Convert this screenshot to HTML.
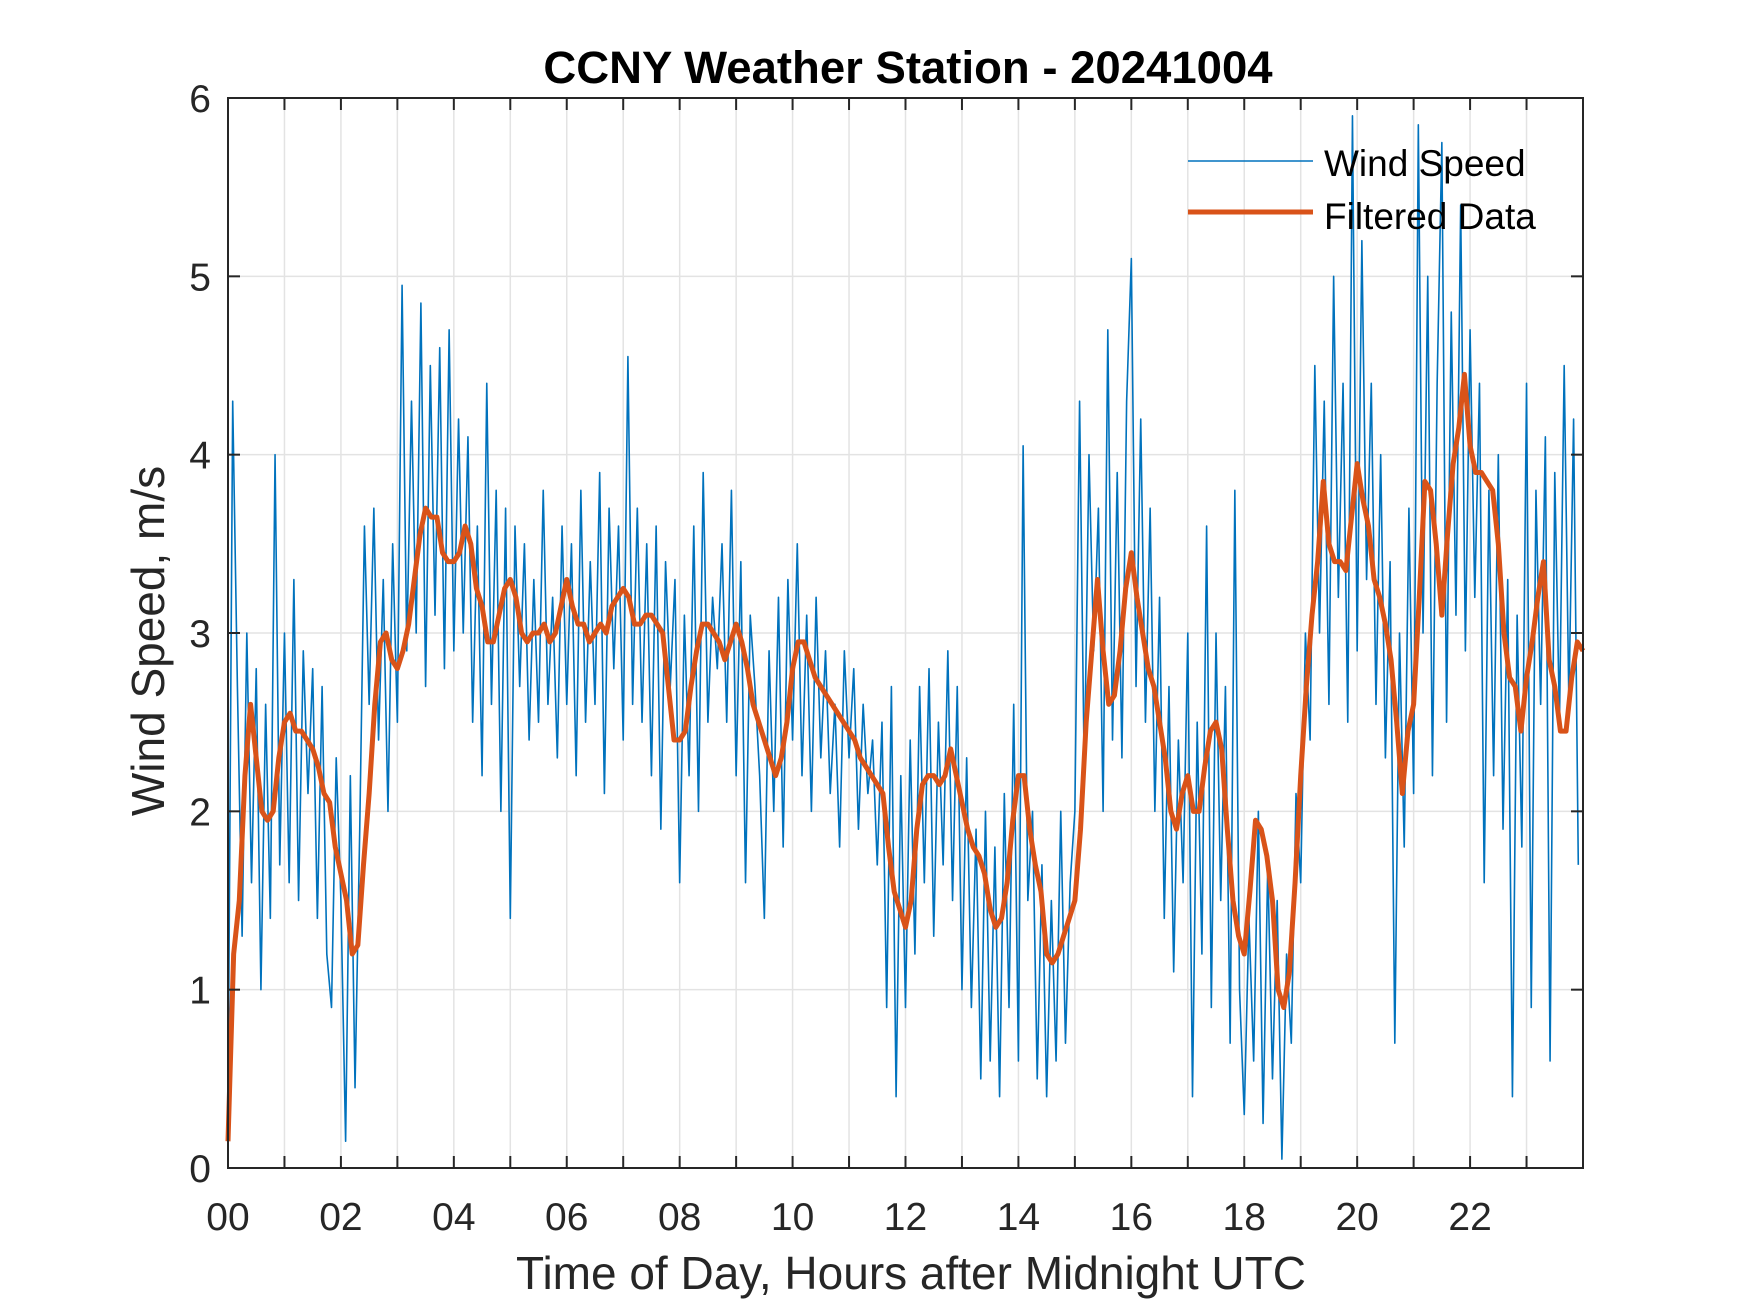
<!DOCTYPE html>
<html><head><meta charset="utf-8"><style>
html,body{margin:0;padding:0;background:#fff;}
svg{display:block;font-family:"Liberation Sans",Arial,sans-serif;}
</style></head><body>
<svg id="chart" width="1750" height="1313" viewBox="0 0 1750 1313" xmlns="http://www.w3.org/2000/svg">
<rect x="0" y="0" width="1750" height="1313" fill="#fff"/>
<g id="grid"></g>
<g id="series"></g>
<g id="axes"></g>
<text x="908" y="83" text-anchor="middle" font-size="45.5" font-weight="bold" fill="#000">CCNY Weather Station - 20241004</text>
<text x="911" y="1289" text-anchor="middle" font-size="46" fill="#262626">Time of Day, Hours after Midnight UTC</text>
<text transform="translate(164,641) rotate(-90)" text-anchor="middle" font-size="46" fill="#262626">Wind Speed, m/s</text>
<g>
<line x1="1188" y1="161" x2="1313" y2="161" stroke="#0072BD" stroke-width="1.5"/>
<text x="1324" y="176" font-size="37" fill="#000">Wind Speed</text>
<line x1="1188" y1="212" x2="1313" y2="212" stroke="#D95319" stroke-width="5"/>
<text x="1324" y="229" font-size="37" fill="#000">Filtered Data</text>
</g>
</svg>
<script>
const xTickLabels = ["00","02","04","06","08","10","12","14","16","18","20","22"];
const yTickLabels = ["0","1","2","3","4","5","6"];
const windStep = 1/12;
const windSpeed = [
0.3,4.3,2.7,1.3,3.0,1.6,2.8,1.0,2.6,1.4,4.0,1.7,
3.0,1.6,3.3,1.5,2.9,2.1,2.8,1.4,2.7,1.2,0.9,2.3,
1.5,0.15,2.2,0.45,1.9,3.6,2.6,3.7,2.4,3.3,2.0,3.5,
2.5,4.95,2.9,4.3,3.0,4.85,2.7,4.5,3.1,4.6,2.8,4.7,
2.9,4.2,3.0,4.1,2.5,3.6,2.2,4.4,2.6,3.8,2.0,3.7,
1.4,3.6,2.7,3.5,2.4,3.3,2.5,3.8,2.6,3.2,2.3,3.6,
2.6,3.5,2.2,3.8,2.5,3.4,2.6,3.9,2.1,3.7,2.8,3.6,
2.4,4.55,2.6,3.7,2.5,3.5,2.2,3.6,1.9,3.4,2.7,3.3,
1.6,3.1,2.2,3.6,2.0,3.9,2.5,3.2,2.8,3.5,2.5,3.8,
2.2,3.4,1.6,3.1,2.7,2.2,1.4,2.9,2.0,3.2,1.8,3.3,
2.4,3.5,2.2,3.1,2.0,3.2,2.3,2.9,2.1,2.6,1.8,2.9,
2.3,2.8,1.9,2.6,2.1,2.4,1.7,2.5,0.9,2.7,0.4,2.2,
0.9,2.4,1.2,2.7,1.6,2.8,1.3,2.5,1.7,2.9,1.5,2.7,
1.0,2.3,0.9,1.9,0.5,2.0,0.6,1.8,0.4,2.1,0.9,2.6,
0.6,4.05,1.5,2.0,0.5,1.7,0.4,1.5,0.6,2.0,0.7,1.6,
2.0,4.3,2.2,4.0,2.9,3.7,2.0,4.7,2.4,3.9,2.3,4.3,
5.1,2.7,4.2,2.5,3.7,2.0,3.2,1.4,2.7,1.1,2.4,1.6,
3.0,0.4,2.5,1.2,3.6,0.9,3.0,1.5,2.7,0.7,3.8,1.0,
0.3,1.4,0.6,2.0,0.25,1.7,0.5,1.5,0.05,1.2,0.7,2.1,
1.6,3.0,2.4,4.5,3.0,4.3,2.6,5.0,3.2,4.4,2.5,5.9,
2.9,5.2,3.3,4.4,2.6,4.0,2.3,3.4,0.7,3.0,1.8,3.7,
2.1,5.85,3.0,5.0,2.2,4.4,5.75,2.5,4.8,3.1,5.4,2.9,
4.7,3.2,4.4,1.6,3.8,2.2,4.0,1.9,3.3,0.4,3.1,1.8,
4.4,0.9,3.8,2.6,4.1,0.6,3.9,2.5,4.5,2.6,4.2,1.7
];
const filtStep = 0.1;
const filtered = [
0.15,1.2,1.5,2.2,2.6,2.3,2.0,1.95,2.0,2.3,
2.5,2.55,2.45,2.45,2.4,2.35,2.25,2.1,2.05,1.8,
1.65,1.5,1.2,1.25,1.7,2.1,2.6,2.95,3.0,2.85,
2.8,2.9,3.05,3.3,3.55,3.7,3.65,3.65,3.45,3.4,
3.4,3.45,3.6,3.5,3.25,3.15,2.95,2.95,3.1,3.25,
3.3,3.2,3.0,2.95,3.0,3.0,3.05,2.95,3.0,3.15,
3.3,3.15,3.05,3.05,2.95,3.0,3.05,3.0,3.15,3.2,
3.25,3.2,3.05,3.05,3.1,3.1,3.05,3.0,2.7,2.4,
2.4,2.45,2.7,2.9,3.05,3.05,3.0,2.95,2.85,2.95,
3.05,2.95,2.8,2.6,2.5,2.4,2.3,2.2,2.3,2.5,
2.8,2.95,2.95,2.85,2.75,2.7,2.65,2.6,2.55,2.5,
2.45,2.4,2.3,2.25,2.2,2.15,2.1,1.8,1.55,1.45,
1.35,1.5,1.9,2.15,2.2,2.2,2.15,2.2,2.35,2.2,
2.05,1.9,1.8,1.75,1.65,1.45,1.35,1.4,1.6,1.95,
2.2,2.2,1.9,1.7,1.55,1.2,1.15,1.2,1.3,1.4,
1.5,1.9,2.5,2.9,3.3,2.9,2.6,2.65,2.9,3.25,
3.45,3.2,3.0,2.8,2.7,2.5,2.3,2.0,1.9,2.1,
2.2,2.0,2.0,2.25,2.45,2.5,2.35,1.9,1.5,1.3,
1.2,1.55,1.95,1.9,1.75,1.5,1.0,0.9,1.1,1.6,
2.2,2.7,3.1,3.4,3.85,3.5,3.4,3.4,3.35,3.65,
3.95,3.75,3.6,3.3,3.2,3.05,2.85,2.5,2.1,2.45,
2.6,3.2,3.85,3.8,3.5,3.1,3.55,3.95,4.15,4.45,
4.05,3.9,3.9,3.85,3.8,3.5,3.0,2.75,2.7,2.45,
2.75,2.95,3.2,3.4,2.85,2.7,2.45,2.45,2.75,2.95,
2.9
];
const X0=228,X1=1583,Y0=1168,Y1=98,XMAX=24,YMAX=6;
function xs(h){return X0+(X1-X0)*h/XMAX;}
function ys(v){return Y0-(Y0-Y1)*v/YMAX;}
const NS="http://www.w3.org/2000/svg";
function mk(tag,attrs,parent){const e=document.createElementNS(NS,tag);for(const k in attrs)e.setAttribute(k,attrs[k]);parent.appendChild(e);return e;}
const grid=document.getElementById('grid'),axes=document.getElementById('axes'),series=document.getElementById('series');
for(let h=1;h<XMAX;h++){
  const l=mk('line',{x1:xs(h),x2:xs(h),y1:Y1,y2:Y0,stroke:'#e3e3e3','stroke-width':1.5},grid);
  
  
}
for(let v=1;v<YMAX;v++){
  const l=mk('line',{x1:X0,x2:X1,y1:ys(v),y2:ys(v),stroke:'#e3e3e3','stroke-width':1.5},grid);
  
  
}
let d='';
windSpeed.forEach((v,i)=>{d+=(i?'L':'M')+xs(i*windStep).toFixed(2)+','+ys(v).toFixed(2);});
const p1=mk('path',{d:d,fill:'none',stroke:'#0072BD','stroke-width':1.6,'stroke-linejoin':'round'},series);


let d2='';
filtered.forEach((v,i)=>{d2+=(i?'L':'M')+xs(i*filtStep).toFixed(2)+','+ys(v).toFixed(2);});
const p2=mk('path',{d:d2,fill:'none',stroke:'#D95319','stroke-width':5,'stroke-linejoin':'round'},series);


const box=mk('rect',{x:X0,y:Y1,width:X1-X0,height:Y0-Y1,fill:'none',stroke:'#262626','stroke-width':2},axes);


for(let h=1;h<XMAX;h++){
  const t1=mk('line',{x1:xs(h),x2:xs(h),y1:Y0,y2:Y0-12,stroke:'#262626','stroke-width':2},axes);
  
  
  const t2=mk('line',{x1:xs(h),x2:xs(h),y1:Y1,y2:Y1+12,stroke:'#262626','stroke-width':2},axes);
  
  
}
xTickLabels.forEach((lab,i)=>{
  const t=mk('text',{x:xs(i*2),y:1230,'text-anchor':'middle','font-size':39,fill:'#262626'},axes);
  t.textContent=lab;
  
  
});
yTickLabels.forEach((lab,i)=>{
  if(i>0&&i<YMAX){
    const a=mk('line',{x1:X0,x2:X0+12,y1:ys(i),y2:ys(i),stroke:'#262626','stroke-width':2},axes);
    
    
    const b=mk('line',{x1:X1,x2:X1-12,y1:ys(i),y2:ys(i),stroke:'#262626','stroke-width':2},axes);
    
    
  }
  const t=mk('text',{x:211,y:ys(i)+14,'text-anchor':'end','font-size':39,fill:'#262626'},axes);
  t.textContent=lab;
  
  
});
</script>
</body></html>
